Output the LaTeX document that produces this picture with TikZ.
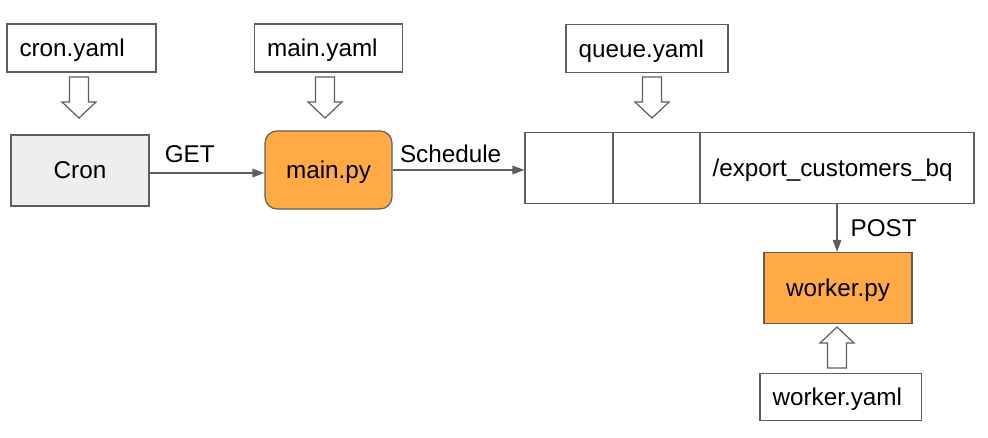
\documentclass[tikz,border=0pt]{standalone}
\usepackage{fontspec}
\setmainfont{Liberation Sans}
\usetikzlibrary{arrows.meta}
\definecolor{linegray}{HTML}{5E5E5E}
\definecolor{boxorange}{HTML}{FFAA44}
\definecolor{boxgray}{HTML}{EEEEEE}
\tikzstyle{base} = [rectangle, draw=linegray, line width=0.9pt, text depth=0pt, font=\fontsize{18.2pt}{22pt}\selectfont]
\tikzstyle{file} = [base, align=left, inner xsep=9.4pt, minimum height=36pt]
\tikzstyle{rec} = [base, minimum width=111pt, minimum height=53.25pt, text centered]
\tikzstyle{cell} = [base, minimum width=65.6pt, minimum height=53.25pt]
\tikzstyle{lbl} = [inner sep=0pt, text depth=0pt, font=\fontsize{18.2pt}{22pt}\selectfont]
\tikzstyle{arrow} = [draw=linegray, line width=0.9pt, -{Triangle[length=9pt,width=6.4pt]}]
\tikzstyle{hollow} = [draw=linegray, line width=0.9pt, fill=white, line join=miter]
\tikzset{pics/fatdown/.style={code={
	\draw[hollow] (-9.5,-41) -- (9.5,-41) -- (9.5,-16) -- (17,-16) -- (0,0) -- (-17,-16) -- (-9.5,-16) -- cycle;}}}

\begin{document}
\begin{tikzpicture}[x=0.75pt, y=-0.75pt]
		\useasboundingbox (0,0) rectangle (988,437);
		\node (cron) [rec, fill=boxgray, minimum width=103.5pt] at (80,170.5) {Cron};
		\node (cron_yaml) [file, text width=93pt, above of=cron, node distance=91.875pt, xshift=1.125pt] {cron.yaml};
		\node (main_py) [rec, fill=boxorange, rounded corners=9pt, minimum width=95.25pt, minimum height=58.5pt, right of=cron, node distance=186.4pt, yshift=0.4pt] {main.py};
		\node (main_yaml) [file, text width=92.2pt, above of=main_py, node distance=91.5pt] {main.yaml};
		\draw [arrow] ([yshift=-1.9pt]cron.east) -- ([yshift=-1.9pt]cron.east -| main_py.west) node [lbl, above=7.5pt, pos=0.35] {GET};
		\node (cell1) [cell, minimum width=66pt, right of=main_py, node distance=180.4pt, yshift=1.5pt] {};
		\node (cell2) [cell, right of=cell1, node distance=65.6pt] {};
		\node (cell3) [base, align=left, inner xsep=9.4pt, text width=186.7pt, minimum height=53.25pt, right of=cell2, node distance=135.4pt] {/export\_customers\_bq};
		\node (queue_yaml) [file, text width=102.7pt, above of=cell2, node distance=89.6pt, xshift=-7.1pt] {queue.yaml};
		\draw [arrow] (main_py.east) -- (main_py.east -| cell1.west) node [lbl, above=5.25pt, pos=0.44] {Schedule};
		\node (worker_py) [rec, fill=boxorange, below of=cell3, node distance=90pt, xshift=0.75pt] {worker.py};
		\node (worker_yaml) [file, text width=102pt, minimum height=35.25pt, below of=worker_py, node distance=81.75pt, xshift=1.9pt] {worker.yaml};
		\draw [arrow] (cell3.south) -- (cell3.south |- worker_py.north) node [lbl, right=9.75pt, midway] {POST};
		% hollow arrows from the config files
		\pic at (79,118) {fatdown};
		\pic at (325,118) {fatdown};
		\pic at (652,118) {fatdown};
		\pic [rotate=180] at (837,327) {fatdown};
\end{tikzpicture}
\end{document}
